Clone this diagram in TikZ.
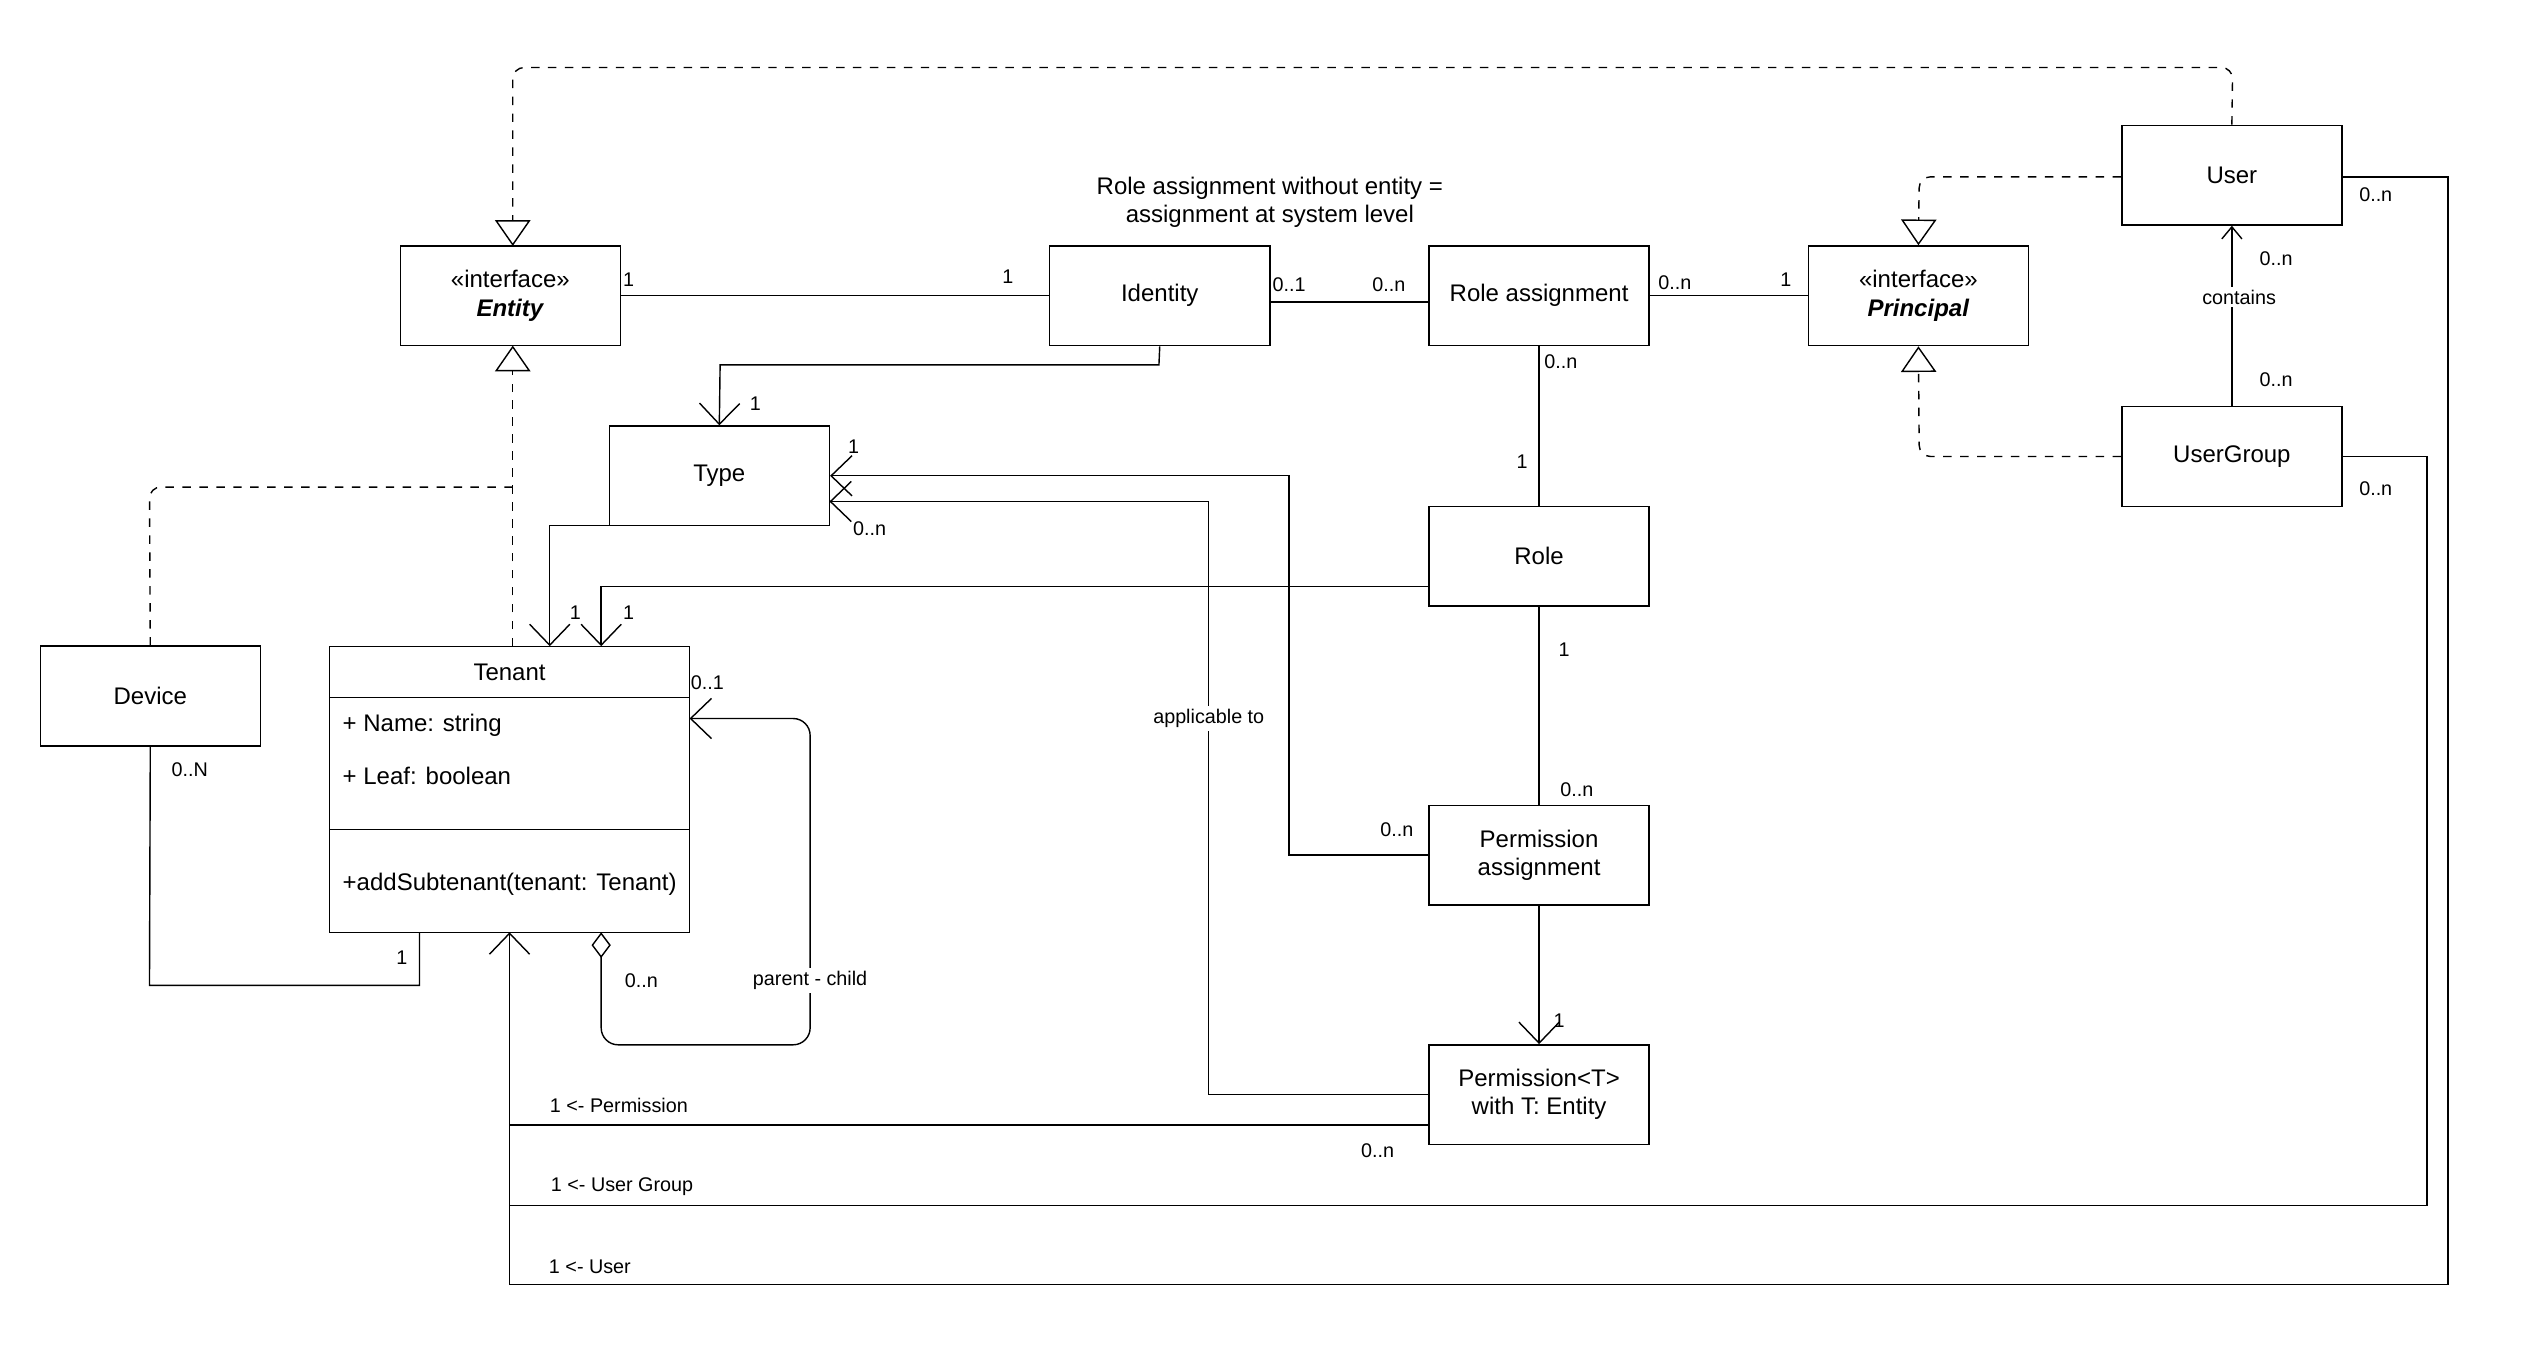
\documentclass[tikz,border=0pt]{standalone}
\usepackage{fontspec}
\setmainfont{Liberation Sans}
\usetikzlibrary{arrows.meta,calc}
\tikzset{
  cls/.style={draw, minimum width=2.74cm, minimum height=1.24cm, align=center, font=\fontsize{8.5}{10}\selectfont},
  txt/.style={font=\fontsize{8.5}{10}\selectfont, inner sep=1pt},
  lbl/.style={font=\fontsize{7}{8}\selectfont, inner sep=1pt},
  assoc/.style={-{Straight Barb[length=2.6mm,width=5mm]}},
  real/.style={dashed, -{Triangle[open,length=3.2mm,width=4.4mm]}, rounded corners=4pt},
}
\begin{document}
\begin{tikzpicture}[x=0.02cm, y=-0.02cm, line width=0.5pt]
  \useasboundingbox (0,0) rectangle (1569,845);

  % Classes
  \node[cls] (entity) at (317.5, 184) {«interface»\\\textbf{\textit{Entity}}};
  \node[cls] (ident) at (721.5, 184) {Identity};
  \node[cls] (roleas) at (957.5, 184) {Role assignment};
  \node[cls] (princ) at (1193.5, 184) {«interface»\\\textbf{\textit{Principal}}};
  \node[cls] (user) at (1388.5, 109) {User};
  \node[cls] (ugroup) at (1388.5, 284) {UserGroup};
  \node[cls] (type) at (447.5, 296) {Type};
  \node[cls] (role) at (957.5, 346) {Role};
  \node[cls] (device) at (93.5, 433) {Device};
  \node[cls] (permas) at (957.5, 532) {Permission\\assignment};
  \node[cls] (perm) at (957.5, 681) {Permission<T>\\with T: Entity};

  % Tenant
  \node[draw, minimum width=4.48cm, minimum height=3.56cm, inner sep=0] (tenant) at (317, 491) {};
  \draw (205, 434) -- (429, 434);
  \draw (205, 516) -- (429, 516);
  \node[txt] (tname) at (317, 418) {Tenant};
  \node[txt, anchor=west] (tattr1) at (211, 451) {+ Name: string};
  \node[txt, anchor=west] (tattr2) at (211, 483) {+ Leaf: boolean};
  \node[txt, anchor=west] (tmeth) at (211, 550) {+addSubtenant(tenant: Tenant)};

  \node[align=center, font=\fontsize{8.5}{10}\selectfont] (note) at (790, 126) {Role assignment without entity =\\assignment at system level};

  % Associations
  \draw (entity.east |- 0,184) -- (ident.west |- 0,184);
  \node[lbl] at (391, 174) {1};
  \node[lbl] at (627, 172) {1};
  \draw (ident.east |- 0,188) -- (roleas.west |- 0,188);
  \node[lbl] at (802, 177) {0..1};
  \node[lbl] at (864, 177) {0..n};
  \draw (roleas.east) -- (princ.west);
  \node[lbl] at (1042, 176) {0..n};
  \node[lbl] at (1111, 174) {1};
  \draw[assoc] (ident.south) -- (721, 227) -- (448, 227) -- (type.north);
  \node[lbl] at (470, 251) {1};
  \draw (roleas.south) -- (role.north);
  \node[lbl] at (971, 225) {0..n};
  \node[lbl] at (947, 287) {1};
  \draw (role.south) -- (permas.north);
  \node[lbl] at (973, 404) {1};
  \node[lbl] at (981, 491) {0..n};
  \draw[assoc] (permas.south) -- (perm.north);
  \node[lbl] at (970, 635) {1};

  % Realizations
  \draw[real] (user.north) -- (1389, 42) -- (319, 42) -- (319, 153);
  \draw[real] (user.west |- 0,110) -- (1194, 110) -- (princ.north);
  \draw[real] (ugroup.west) -- (1194, 284) -- (princ.south);
  \draw[real] (319, 402) -- (319, 215);
  \draw[dashed, rounded corners=4pt] (device.north) -- (93, 303) -- (319, 303);

  \draw[-{Straight Barb[length=1.5mm,width=2.5mm]}] (ugroup.north) -- (user.south);
  \node[lbl] at (1416, 161) {0..n};
  \node[lbl, fill=white] at (1393, 185) {contains};
  \node[lbl] at (1416, 236) {0..n};

  % Tenant links
  \draw[assoc] (379, 327) -- (342, 327) -- (342, 402);
  \node[lbl] at (358, 381) {1};
  \draw[assoc] (role.west |- 0,365) -- (374, 365) -- (374, 402);
  \node[lbl] at (391, 381) {1};
  \draw (device.south) -- (93, 613) -- (261, 613) -- (261, 580);
  \node[lbl] at (118, 479) {0..N};
  \node[lbl] at (250, 596) {1};
  \draw[{Diamond[open,length=3.2mm,width=2.4mm]}-{Straight Barb[length=2.6mm,width=5mm]}, rounded corners=6pt]
    (374, 580) -- (374, 650) -- (504, 650) -- (504, 447) -- (429, 447);
  \node[lbl] at (440, 425) {0..1};
  \node[lbl] at (399, 610) {0..n};
  \node[lbl, fill=white] at (504, 610) {parent - child};

  % Type links
  \draw[assoc] (permas.west) -- (802, 532) -- (802, 296) -- (type.east);
  \node[lbl] at (869, 516) {0..n};
  \node[lbl] at (531, 278) {1};
  \draw[assoc] (perm.west) -- (752, 681) -- (752, 312) -- (516, 312);
  \node[lbl] at (541, 329) {0..n};
  \node[lbl, fill=white] at (752, 447) {applicable to};

  % Links to Tenant bottom
  \draw[assoc] (889, 700) -- (317, 700) -- (317, 580);
  \node[lbl] at (385, 688) {1 <- Permission};
  \node[lbl] at (857, 716) {0..n};
  \draw (ugroup.east) -- (1510, 284) -- (1510, 750) -- (317, 750);
  \node[lbl] at (387, 738) {1 <- User Group};
  \node[lbl] at (1478, 304) {0..n};
  \draw (user.east |- 0,110) -- (1523, 110) -- (1523, 799) -- (317, 799) -- (317, 700);
  \node[lbl] at (367, 788) {1 <- User};
  \node[lbl] at (1478, 121) {0..n};
\end{tikzpicture}
\end{document}
